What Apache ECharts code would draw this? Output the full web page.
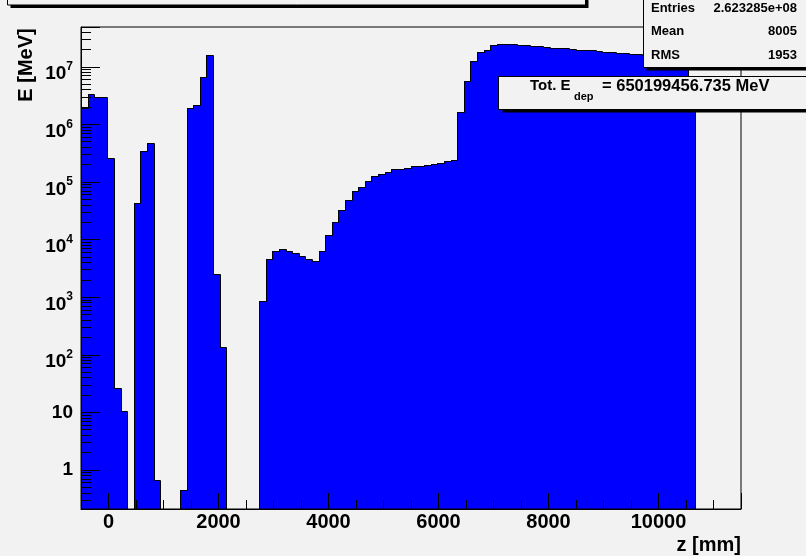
<!DOCTYPE html>
<html><head><meta charset="utf-8">
<script src="https://cdn.jsdelivr.net/npm/echarts@6/dist/echarts.min.js"></script>
<style>html,body{margin:0;padding:0;background:#f2f2f2}#c{width:806px;height:556px}</style>
</head><body><div id="c"></div>
<script>
// ---- data ----
const binStart = -500;      // mm
const binWidth = 120;       // mm
const binValues = [
  1.9e6, 3.3e6, 3.0e6, 3.0e6, 2.65e5, 26, 10.5, 0, 4.26e4, 3.45e5,
  4.8e5, 0.67, 0, 0, 0, 0.45, 1.9e6, 2.15e6, 6.7e6, 1.6e7,
  2500, 138, 0, 0, 0, 0, 0, 860, 4600, 6400,
  6870, 6400, 5950, 5250, 4600, 4230, 6400, 12000, 20500, 32700,
  48700, 69800, 83000, 104000, 127000, 136000, 151000, 166000, 166000, 175000,
  187000, 192000, 200000, 205000, 216000, 232000, 244000, 1.66e6, 5.6e6, 1.25e7,
  1.8e7, 1.98e7, 2.36e7, 2.45e7, 2.45e7, 2.45e7, 2.42e7, 2.38e7, 2.3e7, 2.25e7,
  2.22e7, 2.15e7, 2.1e7, 2.08e7, 2.0e7, 1.98e7, 1.96e7, 1.93e7, 1.85e7, 1.83e7,
  1.78e7, 1.76e7, 1.74e7, 1.68e7, 1.66e7, 1.62e7, 1.58e7, 1.55e7, 1.5e7, 1.47e7,
  1.43e7, 1.4e7, 5e6, 0, 0, 0, 0, 0, 0, 0
];
const xRange = [-500, 11500];
const yRange = [0.21, 4.9e7];
const statNames = ['Entries', 'Mean', 'RMS'];
const statValues = ['2.623285e+08', '8005', '1953'];
const totLabel = 'Tot. E';
const totSub = 'dep';
const totValue = '= 650199456.735 MeV';
const titleText = 'Longitudinal energy deposition profile (all particles)';
const xTitle = 'z [mm]';
const yTitle = 'E [MeV]';

// ---- build ----
const FONT = '"Liberation Sans", Arial, Helvetica, sans-serif';
const histData = binValues.map((v, i) => {
  const x0 = binStart + i * binWidth;
  return [x0, x0 + binWidth, v, i > 0 ? binValues[i - 1] : 0];
});
const clampV = v => Math.min(Math.max(v, yRange[0]), yRange[1]);
const snap = p => [Math.round(p[0]) + 0.5, Math.round(p[1]) + 0.5];

const chart = echarts.init(document.getElementById('c'), null, {renderer: 'canvas'});
const option = {
  backgroundColor: '#f2f2f2',
  animation: false,
  grid: {left: 81, top: 27, right: 65, bottom: 47, show: true, borderColor: '#000', borderWidth: 1, backgroundColor: 'transparent', z: 9},
  xAxis: {
    type: 'value', min: xRange[0], max: xRange[1], z: 10,
    axisLine: {show: true, onZero: false, lineStyle: {color: '#000', width: 1}},
    axisTick: {show: true, inside: true, length: 16, lineStyle: {color: '#000', width: 1}},
    minorTick: {show: true, splitNumber: 4, length: 9, lineStyle: {color: '#000', width: 1}},
    splitLine: {show: false},
    axisLabel: {showMinLabel: false, showMaxLabel: false, margin: 3, color: '#000',
      formatter: v => String(v),
      fontSize: 20, fontWeight: 'bold', fontFamily: FONT}
  },
  yAxis: {
    type: 'log', logBase: 10, min: yRange[0], max: yRange[1], z: 10,
    axisLine: {show: true, onZero: false, lineStyle: {color: '#000', width: 1}},
    axisTick: {show: true, inside: true, length: 19, lineStyle: {color: '#000', width: 1}},
    minorTick: {show: true, splitNumber: 9, length: 10, lineStyle: {color: '#000', width: 1}},
    splitLine: {show: false},
    axisLabel: {
      showMinLabel: false, showMaxLabel: false, margin: 8, color: '#000',
      formatter: v => {
        const l = Math.log10(v), e = Math.round(l);
        if (Math.abs(l - e) > 1e-6) return '';
        if (e === 0) return '{c|1}';
        if (e === 1) return '{c|10}';
        return '{b|10}{s|' + e + '}';
      },
      rich: {
        c: {fontSize: 19, fontWeight: 'bold', fontFamily: FONT, color: '#000'},
        b: {fontSize: 19, fontWeight: 'bold', fontFamily: FONT, color: '#000', verticalAlign: 'bottom'},
        s: {fontSize: 12, fontWeight: 'bold', fontFamily: FONT, color: '#000', lineHeight: 34, verticalAlign: 'top', padding: [11, 0, 0, 0]}
      }
    }
  },
  series: [
    {
      type: 'custom', name: 'fill', clip: true, z: 2,
      data: histData,
      renderItem: (params, api) => {
        const v = api.value(2);
        if (!(v > 0)) return null;
        const pBL = api.coord([api.value(0), yRange[0]]);
        const pTR = api.coord([api.value(1), clampV(v)]);
        const x = Math.round(pBL[0]), y = Math.round(pTR[1]);
        return {type: 'rect', shape: {x: x, y: y, width: Math.round(pTR[0]) - x, height: Math.round(pBL[1]) - y},
          style: {fill: '#0000ff'}};
      }
    },
    {
      type: 'custom', name: 'outline', clip: true, z: 3,
      data: histData,
      renderItem: (params, api) => {
        const x0 = api.value(0), x1 = api.value(1);
        const v = api.value(2) > 0 ? clampV(api.value(2)) : yRange[0];
        const vp = api.value(3) > 0 ? clampV(api.value(3)) : yRange[0];
        const a = snap(api.coord([x0, vp])), b = snap(api.coord([x0, v])), c = snap(api.coord([x1, v]));
        return {type: 'polyline', shape: {points: [a, b, c]}, style: {stroke: '#000', lineWidth: 1, fill: null}};
      }
    }
  ],
  graphic: [
    // title box (mostly above canvas)
    {type: 'rect', z: 10, shape: {x: 10.5, y: -40, width: 578, height: 48}, style: {fill: '#000'}},
    {type: 'rect', z: 11, shape: {x: 7.5, y: -43, width: 578, height: 48}, style: {fill: '#f2f2f2', stroke: '#000', lineWidth: 1}},
    {type: 'text', z: 12, x: 296, y: -1, style: {text: titleText, align: 'center', verticalAlign: 'bottom', fill: '#000', font: 'bold 16px ' + FONT}},
    // stats box
    {type: 'rect', z: 10, shape: {x: 646.5, y: -27, width: 200, height: 97.5}, style: {fill: '#000'}},
    {type: 'rect', z: 11, shape: {x: 643.5, y: -30, width: 200, height: 97.5}, style: {fill: '#f2f2f2', stroke: '#000', lineWidth: 1}},
    ...statNames.map((n, i) => ({type: 'text', z: 12, x: 651, y: 8 + i * 23.5, style: {text: n, align: 'left', verticalAlign: 'middle', fill: '#000', font: 'bold 13px ' + FONT}})),
    ...statValues.map((n, i) => ({type: 'text', z: 12, x: 797, y: 8 + i * 23.5, style: {text: n, align: 'right', verticalAlign: 'middle', fill: '#000', font: 'bold 13px ' + FONT}})),
    // total energy box
    {type: 'rect', z: 10, shape: {x: 502.5, y: 79.5, width: 330, height: 33}, style: {fill: '#000'}},
    {type: 'rect', z: 11, shape: {x: 498.5, y: 76.5, width: 330, height: 33}, style: {fill: '#f2f2f2', stroke: '#000', lineWidth: 1}},
    {type: 'text', z: 12, x: 530, y: 86, style: {text: totLabel, align: 'left', verticalAlign: 'middle', fill: '#000', font: 'bold 15px ' + FONT}},
    {type: 'text', z: 12, x: 574, y: 97, style: {text: totSub, align: 'left', verticalAlign: 'middle', fill: '#000', font: 'bold 11px ' + FONT}},
    {type: 'text', z: 12, x: 602, y: 86, style: {text: totValue, align: 'left', verticalAlign: 'middle', fill: '#000', font: 'bold 16.5px ' + FONT}},
    // axis titles
    {type: 'text', z: 12, x: 26.5, y: 65, rotation: Math.PI / 2, style: {text: yTitle, align: 'center', verticalAlign: 'middle', fill: '#000', font: 'bold 20px ' + FONT}},
    {type: 'text', z: 12, x: 741, y: 545, style: {text: xTitle, align: 'right', verticalAlign: 'middle', fill: '#000', font: 'bold 20px ' + FONT}}
  ]
};
chart.setOption(option);
</script>
</body></html>
